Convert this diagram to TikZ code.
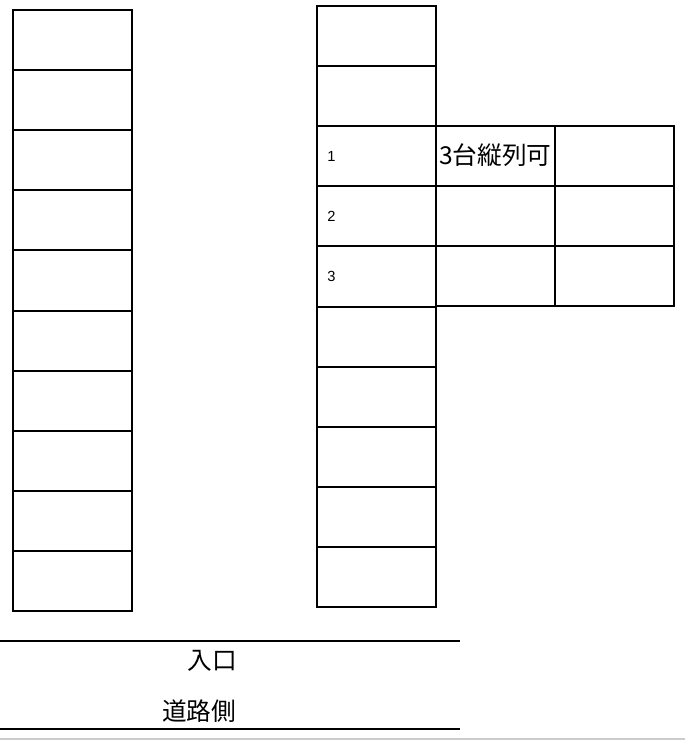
\documentclass[tikz,border=0pt]{standalone}
\usepackage{fontspec}
\newfontfamily\cjk{Noto Sans CJK JP}
\setmainfont{Liberation Sans}
\begin{document}
\begin{tikzpicture}[x=0.75pt,y=-0.75pt,
  stall/.style={draw=black,line width=1.5pt,fill=none},
  rule/.style={draw=black,line width=1.5pt},
  num/.style={anchor=west,inner sep=0pt,font=\fontsize{11}{13}\selectfont},
  jp/.style={inner sep=0pt,font=\cjk\fontsize{18.5}{22}\selectfont}]
\useasboundingbox (0,0) rectangle (685,740);
% left column
\foreach \i in {0,...,9}{
  \path[stall] (13,{10+60.1*\i}) rectangle (132,{10+60.1*(\i+1)});
}
% right column
\foreach \i in {0,...,9}{
  \path[stall] (317,{6+60.1*\i}) rectangle (436,{6+60.1*(\i+1)});
}
% extra cells
\foreach \i in {2,3,4}{
  \path[stall] (436,{6+60*\i}) rectangle (555,{6+60*(\i+1)});
  \path[stall] (555,{6+60*\i}) rectangle (674,{6+60*(\i+1)});
}
\node[num] (n1) at (327,156) {1};
\node[num] (n2) at (327,216) {2};
\node[num] (n3) at (327,276) {3};
\node[jp,anchor=west] (lbl) at (439,155) {3台縦列可};
% road
\path[rule] (0,641) -- (460,641);
\path[rule] (0,729) -- (460,729);
\draw[draw=black!20,line width=0.9pt] (0,739) -- (685,739);
\node[jp] (ent) at (212,661) {入口};
\node[jp] (road) at (199,711) {道路側};
\end{tikzpicture}
\end{document}
